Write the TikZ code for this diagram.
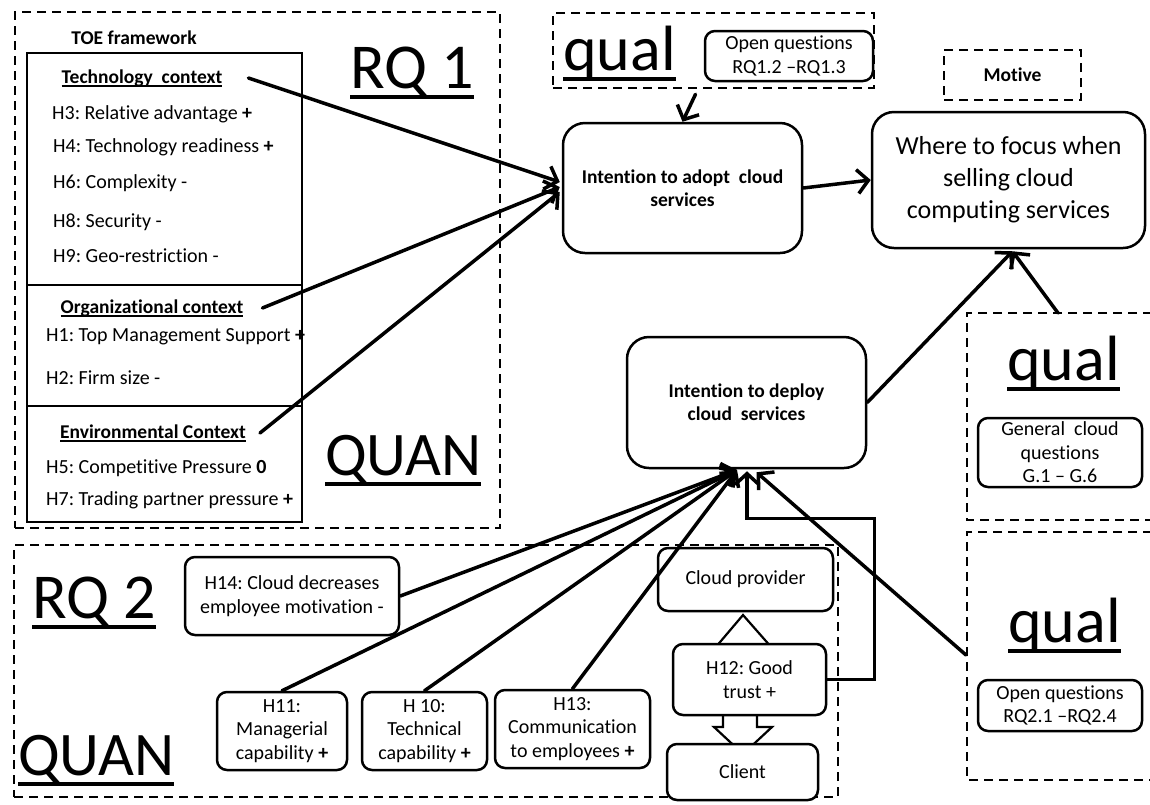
\documentclass[tikz,border=0pt]{standalone}
\usepackage{fontspec}
\setmainfont{Carlito}[Ligatures=NoCommon]
\usetikzlibrary{arrows.meta}
\frenchspacing

% underline drawn as a rule below the baseline, ignoring descenders
\newcommand\ulin[1]{\setbox0\hbox{#1}\rlap{\vrule height -0.11em depth 0.17em width \wd0}\box0}

\tikzset{
  every node/.style={font=\fontsize{20}{23.5}\selectfont, inner sep=0pt},
  frame/.style={draw, line width=2.5pt, dash pattern=on 9pt off 6pt},
  solidline/.style={line width=2.5pt},
  rbox/.style={draw, line width=2.5pt, fill=white, rounded corners=10pt, align=center},
  bigbox/.style={rbox, rounded corners=22pt},
  biglabel/.style={anchor=base west, font=\fontsize{64}{70}\selectfont},
  item/.style={anchor=west},
  head/.style={font=\bfseries\fontsize{19.5}{23}\selectfont},
  link/.style={line width=3.5pt, line cap=round, -{Straight Barb[length=11pt,width=24pt,line width=3.5pt]}},
  blockarrow/.style={draw, line width=2.2pt, fill=white, line join=miter},
}

\begin{document}
\begin{tikzpicture}[x=1pt,y=-1pt]
\useasboundingbox (0,0) rectangle (1150,804);

% ---------------- dashed frames ----------------
\node[frame, minimum width=485pt, minimum height=516pt] (rqonefr) at (257.5,270) {};
\node[frame, minimum width=321pt, minimum height=75pt] (qualtopfr) at (713.5,50.5) {};
\node[frame, minimum width=137pt, minimum height=50pt, head] (motive) at (1012.5,75) {Motive};
\node[frame, minimum width=824pt, minimum height=252pt] (rqtwofr) at (426,671) {};
\draw[frame] (1152,313) -- (967,313) -- (967,520) -- (1152,520);
\draw[frame] (1152,532) -- (967,532) -- (967,780) -- (1152,780);

% ---------------- big labels ----------------
\node[biglabel] (rqone) at (350,88) {\ulin{RQ 1}};
\node[biglabel, font=\fontsize{62}{68}\selectfont] (quanone) at (325,475) {\ulin{QUAN}};
\node[biglabel] (qualone) at (563,70) {\ulin{qual}};
\node[biglabel] (qualtwo) at (1007,380) {\ulin{qual}};
\node[biglabel] (qualthree) at (1008,642) {\ulin{qual}};
\node[biglabel] (rqtwo) at (32,618) {\ulin{RQ 2}};
\node[biglabel, font=\fontsize{62}{68}\selectfont] (quantwo) at (18,775) {\ulin{QUAN}};

% ---------------- TOE framework ----------------
\node[head] (toe) at (134,38) {TOE framework};
\draw[solidline] (27,53) rectangle (302,522);
\draw[solidline] (27,285) -- (302,285);
\draw[solidline] (27,406) -- (302,406);

\node[head] (tech) at (142,78) {\ulin{Technology\ \ context}};
\node[item] (hthree) at (52,114) {H3: Relative advantage \textbf{+}};
\node[item] (hfour) at (53,147) {H4: Technology readiness \textbf{+}};
\node[item] (hsix) at (53,183) {H6: Complexity -};
\node[item] (height) at (53,222) {H8: Security -};
\node[item] (hnine) at (53,256) {H9: Geo-restriction -};

\node[head] (org) at (152,308) {\ulin{Organizational context}};
\node[item] (hone) at (46,337) {H1: Top Management Support \textbf{+}};
\node[item] (htwo) at (46,378) {H2: Firm size -};

\node[head] (env) at (153,433) {\ulin{Environmental Context}};
\node[item] (hfive) at (46,468) {H5: Competitive Pressure \textbf{0}};
\node[item] (hseven) at (46,500) {H7: Trading partner pressure \textbf{+}};

% ---------------- main boxes ----------------
\node[rbox] (openqone) at (789,56) [minimum width=168pt, minimum height=50pt] {Open questions\\RQ1.2 –RQ1.3};
\node[bigbox, font=\bfseries\fontsize{19.5}{23}\selectfont, minimum width=239pt, minimum height=130pt] (adopt) at (682.5,188) {Intention to adopt\ \ cloud\\services};
\node[bigbox, font=\fontsize{26}{32}\selectfont, minimum width=273pt, minimum height=136pt] (where) at (1008.5,180) {Where to focus when\\selling cloud\\computing services};
\node[bigbox, font=\bfseries\fontsize{19.5}{23}\selectfont, minimum width=239pt, minimum height=131pt] (deploy) at (746.5,402.5) {Intention to deploy\\cloud\ \ services};
\node[rbox, minimum width=164pt, minimum height=69pt] (genq) at (1060,452.5) {General\ \ cloud\\questions\\G.1 – G.6};
\node[rbox, minimum width=164pt, minimum height=51pt] (openqtwo) at (1060,705.5) {Open questions\\RQ2.1 –RQ2.4};

% ---------------- RQ2 factors ----------------
\node[rbox, minimum width=214pt, minimum height=78pt] (hfourteen) at (292,596) {H14: Cloud decreases\\employee motivation -};
\node[rbox, minimum width=130pt, minimum height=78pt] (heleven) at (282,731) {H11:\\Managerial\\capability \textbf{+}};
\node[rbox, minimum width=125pt, minimum height=78pt] (hten) at (424.5,731) {H 10:\\Technical\\capability \textbf{+}};
\node[rbox, minimum width=155pt, minimum height=78pt] (hthirteen) at (572.5,729) {H13:\\Communication\\to employees \textbf{+}};

% trust chain with block arrows
\node[rbox, minimum width=175pt, minimum height=63pt] (provider) at (745.5,579.5) {Cloud provider};
\draw[blockarrow] (715,648) -- (743,615) -- (772,648);
\draw[blockarrow] (723,712) -- (723,727) -- (714,727) -- (743,754) -- (772,727) -- (757,727) -- (757,712);
\node[rbox, minimum width=153pt, minimum height=71pt] (htwelve) at (749.5,679.5) {H12: Good\\trust +};
\node[rbox, minimum width=151pt, minimum height=56pt] (client) at (742.5,772) {Client};

% ---------------- connectors ----------------
\coordinate (hub) at (737,470);
\coordinate (qualthreeleft) at (966,655);

\draw[link] ([xshift=26pt]tech.east) -- ([xshift=-2pt,yshift=6pt]adopt.west);
\draw[link] ([xshift=19pt]org.east) -- ([xshift=-2pt,yshift=1pt]adopt.west);
\draw[link] ([xshift=14pt]env.east) -- ([xshift=-2pt,yshift=-4pt]adopt.west);
\draw[link] ([xshift=-18pt,yshift=-5pt]qualtopfr.south) -- (adopt.north);
\draw[link] (adopt.east) -- (where.west);
\draw[link] (deploy.east) -- ([xshift=4pt,yshift=-2pt]where.south);
\draw[link] (1058,313) -- ([xshift=4pt,yshift=-2pt]where.south);

\draw[link] (hfourteen.east) -- (hub);
\draw[link] (heleven.north) -- (hub);
\draw[link] (hten.north) -- (hub);
\draw[link] (hthirteen.north) -- (hub);
\draw[link, line cap=butt] (htwelve.east) -- ++(47,0) |- ([xshift=0.5pt,yshift=-49pt]deploy.south) -- ([xshift=0.5pt,yshift=-2pt]deploy.south);
\draw[link] (qualthreeleft) -- ([xshift=10pt,yshift=-3pt]deploy.south);

\end{tikzpicture}
\end{document}
